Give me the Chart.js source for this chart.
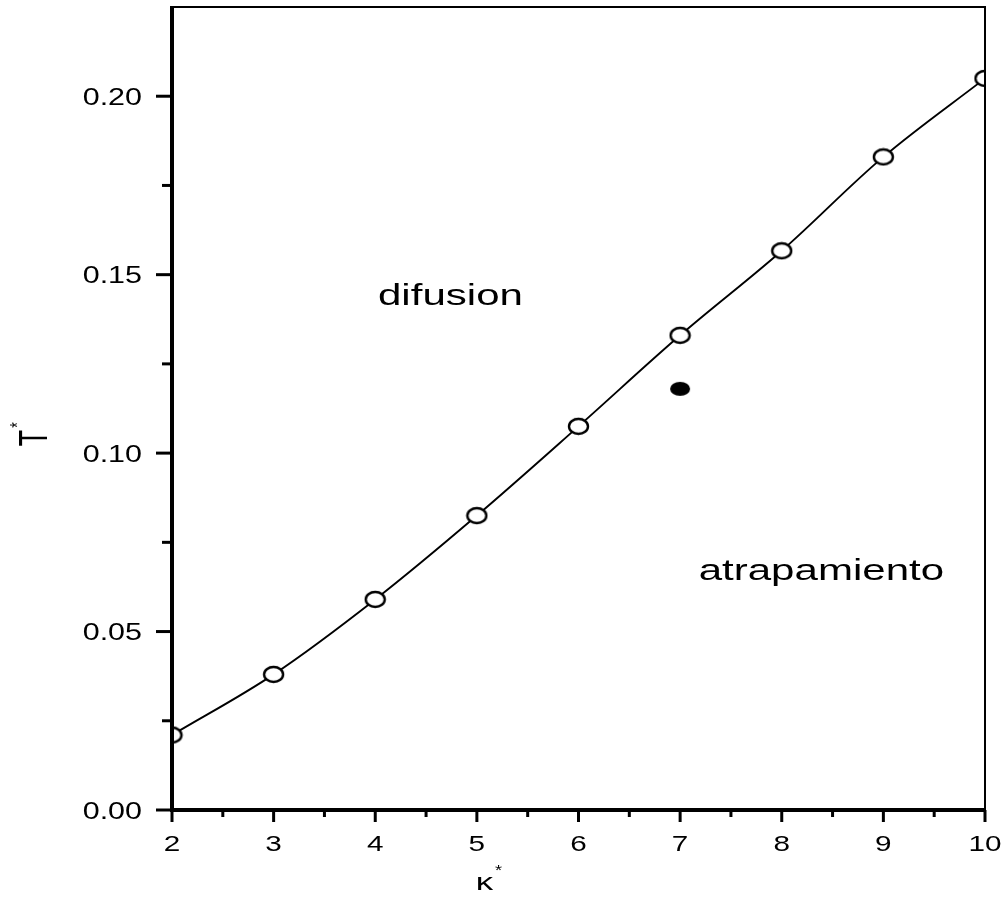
<!DOCTYPE html>
<html>
<head>
<meta charset="utf-8">
<script src="https://cdn.jsdelivr.net/npm/chart.js@4/dist/chart.umd.min.js"></script>
<style>
  html, body { margin: 0; padding: 0; background: #fff; }
  canvas { display: block; }
</style>
</head>
<body>
<canvas id="phaseChart" width="1007" height="917"></canvas>
<script>
// transition line T*(kappa*) and the single extra point
const kappa = [2, 3, 4, 5, 6, 7, 8, 9, 10];
const tStar = [0.021, 0.038, 0.059, 0.0825, 0.1075, 0.133, 0.1567, 0.183, 0.205];
const extraKappa = [7];
const extraT = [0.118];

// axis ticks
const xTicks = [2, 3, 4, 5, 6, 7, 8, 9, 10];
const xMinorTicks = [2.5, 3.5, 4.5, 5.5, 6.5, 7.5, 8.5, 9.5];
const yTicks = [0.00, 0.05, 0.10, 0.15, 0.20];
const yMinorTicks = [0.025, 0.075, 0.125, 0.175];

// region labels
const regionNames = ["difusion", "atrapamiento"];
const regionKappa = [4.74, 8.39];
const regionT = [0.1416, 0.0645];

// the original scan is stretched sideways, text too
const STRETCH = 1.45;
const FONT = "'Liberation Sans', Arial, Helvetica, sans-serif";

function ellipseMarker(w, h, filled) {
    const c = document.createElement("canvas");
    c.width = w + 4;
    c.height = h + 4;
    const g = c.getContext("2d");
    g.beginPath();
    g.ellipse(c.width / 2, c.height / 2, w / 2, h / 2, 0, 0, Math.PI * 2);
    g.fillStyle = filled ? "#000" : "#fff";
    g.fill();
    if (!filled) {
        g.lineWidth = 2.4;
        g.strokeStyle = "#000";
        g.stroke();
    }
    return c;
}

function stretchedText(ctx, text, x, y, size, sx, align) {
    ctx.save();
    ctx.font = size + "px " + FONT;
    ctx.textAlign = align;
    ctx.translate(x, y);
    ctx.scale(sx, 1);
    ctx.fillText(text, 0, 0);
    ctx.restore();
}

// frame, outward ticks, tick labels, axis titles and region names
const framePlugin = {
    id: "frame",
    afterDraw(chart) {
        const ctx = chart.ctx;
        const area = chart.chartArea;
        const xs = chart.scales.x;
        const ys = chart.scales.y;
        ctx.save();
        ctx.fillStyle = "#000";
        ctx.strokeStyle = "#000";

        // frame: heavy left/bottom, thin top/right
        ctx.lineWidth = 2;
        ctx.beginPath();
        ctx.moveTo(area.left, area.top);
        ctx.lineTo(area.right, area.top);
        ctx.lineTo(area.right, area.bottom);
        ctx.stroke();
        ctx.lineWidth = 4;
        ctx.beginPath();
        ctx.moveTo(area.left, area.top - 1);
        ctx.lineTo(area.left, area.bottom);
        ctx.lineTo(area.right + 1, area.bottom);
        ctx.stroke();

        // ticks
        ctx.lineWidth = 3;
        xTicks.forEach(v => {
            const px = xs.getPixelForValue(v);
            ctx.beginPath(); ctx.moveTo(px, area.bottom); ctx.lineTo(px, area.bottom + 12); ctx.stroke();
        });
        xMinorTicks.forEach(v => {
            const px = xs.getPixelForValue(v);
            ctx.beginPath(); ctx.moveTo(px, area.bottom); ctx.lineTo(px, area.bottom + 7); ctx.stroke();
        });
        yTicks.forEach(v => {
            const py = ys.getPixelForValue(v);
            ctx.beginPath(); ctx.moveTo(area.left - 16, py); ctx.lineTo(area.left, py); ctx.stroke();
        });
        yMinorTicks.forEach(v => {
            const py = ys.getPixelForValue(v);
            ctx.beginPath(); ctx.moveTo(area.left - 10, py); ctx.lineTo(area.left, py); ctx.stroke();
        });

        // tick labels
        ctx.textBaseline = "alphabetic";
        xTicks.forEach(v => {
            stretchedText(ctx, String(v), xs.getPixelForValue(v), area.bottom + 41, 22, 1.35, "center");
        });
        yTicks.forEach(v => {
            stretchedText(ctx, v.toFixed(2), area.left - 30, ys.getPixelForValue(v) + 8.5, 24, 1.27, "right");
        });

        // region names
        regionNames.forEach((name, i) => {
            stretchedText(ctx, name, xs.getPixelForValue(regionKappa[i]),
                ys.getPixelForValue(regionT[i]), 29, STRETCH, "center");
        });

        // y title: T* rotated
        ctx.save();
        ctx.translate(36, 438);
        ctx.scale(1.5, 1);
        ctx.rotate(-Math.PI / 2);
        ctx.font = "27px " + FONT;
        ctx.textAlign = "center";
        ctx.textBaseline = "middle";
        ctx.fillText("T", 0, 0);
        ctx.font = "14px " + FONT;
        ctx.fillText("*", 13, -12);
        ctx.restore();

        // x title: kappa*
        const kx = (area.left + area.right) / 2 - 94;
        stretchedText(ctx, "\u03ba", kx, area.bottom + 80, 24, 1.45, "center");
        stretchedText(ctx, "*", kx + 14, area.bottom + 65, 14, 1.3, "center");

        ctx.restore();
    }
};

const ctx = document.getElementById("phaseChart").getContext("2d");
new Chart(ctx, {
    type: "scatter",
    data: {
        datasets: [
            {
                data: kappa.map((k, i) => ({ x: k, y: tStar[i] })),
                showLine: true,
                borderColor: "#000",
                borderWidth: 1.9,
                tension: 0.35,
                pointStyle: ellipseMarker(19, 15, false),
                clip: 0
            },
            {
                data: extraKappa.map((k, i) => ({ x: k, y: extraT[i] })),
                showLine: false,
                pointStyle: ellipseMarker(20, 14, true),
                clip: 0
            }
        ]
    },
    options: {
        responsive: false,
        animation: false,
        layout: { padding: { top: 7, right: 22, left: 0, bottom: 0 } },
        plugins: {
            legend: { display: false },
            tooltip: { enabled: false }
        },
        scales: {
            x: {
                type: "linear",
                min: 2,
                max: 10,
                grid: { display: false },
                border: { display: false },
                ticks: { display: false },
                afterFit: scale => { scale.height = 107; }
            },
            y: {
                type: "linear",
                min: 0,
                max: 0.225,
                grid: { display: false },
                border: { display: false },
                ticks: { display: false },
                afterFit: scale => { scale.width = 172; }
            }
        }
    },
    plugins: [framePlugin]
});
</script>
</body>
</html>
